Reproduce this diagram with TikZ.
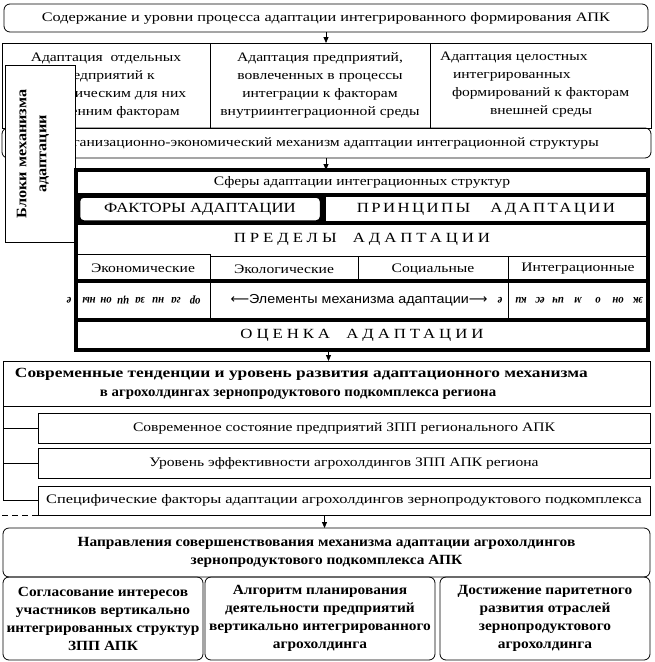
\documentclass[tikz,border=0pt]{standalone}
\usepackage{fontspec}
\setmainfont{Liberation Serif}[FakeStretch=1.2]
\newfontfamily\sansf{Liberation Sans}
\newfontfamily\dvs{DejaVu Sans}
\usetikzlibrary{arrows.meta}
\begin{document}
\begin{tikzpicture}[x=1pt,y=-1pt,
  every node/.style={inner sep=0pt, outer sep=0pt, font=\fontsize{13}{18}\selectfont},
  bx/.style={draw, line width=0.8pt, align=center},
  rbx/.style={bx, rounded corners=6pt},
  thk/.style={line width=3.5pt},
  arr/.style={line width=0.8pt, -{Triangle[length=6pt,width=5pt]}},
  bf/.style={font=\fontsize{14}{18}\selectfont\bfseries\addfontfeature{FakeStretch=1.1}},
  piece/.style={rotate=180, font=\fontsize{12}{12}\selectfont\bfseries\itshape\addfontfeature{FakeStretch=0.9}},
  sp/.style={font=\fontsize{14}{16}\selectfont\addfontfeature{LetterSpace=28}}
]
\useasboundingbox (0,0) rectangle (654,662);
% top
\node[rbx, minimum width=644pt, minimum height=28pt, font=\fontsize{13}{18}\selectfont\addfontfeature{FakeStretch=1.25}] (top) at (326,18) {Содержание и уровни процесса адаптации интегрированного формирования АПК};
% row of three
\node[bx, minimum width=208pt, minimum height=85pt] (c1) at (106,85.5) {Адаптация \ отдельных\\предприятий к\\специфическим для них\\внутренним факторам};
\node[bx, minimum width=220pt, minimum height=85pt] (c2) at (320,85.5) {Адаптация предприятий,\\вовлеченных в процессы\\интеграции к факторам\\внутриинтеграционной среды};
\node[bx, minimum width=221pt, minimum height=85pt] (c3) at (540.5,85.5) {};
\node[anchor=west, align=left] (c3t) at (440,85) {Адаптация целостных\\\hspace*{13pt}интегрированных\\\hspace*{12pt}формирований к факторам\\\hspace*{50pt}внешней среды};
\draw[arr] (top.south) -- (top.south |- c2.north);
% org mech
\node[rbx, minimum width=649pt, minimum height=30pt] (org) at (326.5,143) {Организационно-экономический механизм адаптации интеграционной структуры};
% bloki
\node[bx, fill=white, minimum width=70pt, minimum height=177pt] (bloki) at (40,153.5) {};
\node[rotate=90, align=center, font=\fontsize{14.5}{20}\selectfont\bfseries\addfontfeature{FakeStretch=1.12}] (blokit) at (33,154) {Блоки механизма\\адаптации};
% thick block
\node[minimum width=572pt, minimum height=25pt] (sfery) at (362,182.5) {Сферы адаптации интеграционных структур};
\node[draw, thk, rounded corners=5pt, minimum width=243pt, minimum height=26pt, font=\fontsize{14}{16}\selectfont] (fakt) at (200,209) {ФАКТОРЫ АДАПТАЦИИ};
\node[draw, thk, minimum width=324pt, minimum height=28pt, font=\fontsize{14}{16}\selectfont\addfontfeature{LetterSpace=17}] (princ) at (486,209) {ПРИНЦИПЫ\hspace*{20pt}АДАПТАЦИИ};
\node[minimum width=572pt, minimum height=33pt, sp] (pred) at (362,239.5) {ПРЕДЕЛЫ \ АДАПТАЦИИ};
\node[bx, minimum width=134pt, minimum height=27pt] (e1) at (143,268) {Экономические};
\node[bx, minimum width=148pt, minimum height=25pt] (e2) at (284,269) {Экологические};
\node[bx, minimum width=150pt, minimum height=25pt] (e3) at (433,269) {Социальные};
\node[bx, minimum width=140pt, minimum height=25pt] (e4) at (578,269) {Интеграционные};
\node[bx, minimum width=134pt, minimum height=38pt] (m1) at (143,300.5) {};
\node[bx, minimum width=298pt, minimum height=38pt, font=\fontsize{13}{16}\sansf\addfontfeature{FakeStretch=1.1}] (m2) at (359,300.5) {{\dvs ⟵}Элементы механизма адаптации{\dvs ⟶}};
\node[bx, minimum width=140pt, minimum height=38pt] (m3) at (578,300.5) {};
\node[minimum width=572pt, minimum height=30pt, sp] (ocen) at (362,335) {ОЦЕНКА \ АДАПТАЦИИ};
\draw[thk] (76,170) rectangle (648,350);
\draw[thk] (76,195) -- (648,195);
\draw[thk] (76,223) -- (648,223);
\draw[thk] (76,281) -- (648,281);
\draw[thk] (76,320) -- (648,320);
% pieces
\node[piece] (pl0) at (69,300) {е};
\node[piece] (pl1) at (89,300) {ны};
\node[piece] (pl2) at (106,300) {он};
\node[piece] (pl3) at (123,300) {ци};
\node[piece] (pl4) at (140,300) {за};
\node[piece] (pl5) at (158,300) {ни};
\node[piece] (pl6) at (176,300) {га};
\node[piece] (pl7) at (195,300) {ор};
\node[piece] (pr0) at (500,300) {е};
\node[piece] (pr1) at (521,300) {ки};
\node[piece] (pr2) at (540,300) {ес};
\node[piece] (pr3) at (558,300) {ич};
\node[piece] (pr4) at (578,300) {м};
\node[piece] (pr5) at (598,300) {о};
\node[piece] (pr6) at (618,300) {он};
\node[piece] (pr7) at (638,300) {эк};
\draw[arr] (org.south -| sfery.north) ++(-36,0) coordinate (a2s) -- (a2s |- sfery.north);
% modern tendencies
\node[bx, minimum width=647pt, minimum height=45pt] (sovr) at (326.5,383.5) {};
\node[anchor=west, align=left, font=\fontsize{14}{19}\selectfont\bfseries\addfontfeature{FakeStretch=1.24}] (sovrt) at (15,383.5) {Современные тенденции и уровень развития адаптационного механизма\\\hspace*{85pt}{\addfontfeature{FakeStretch=1.06}в агрохолдингах зернопродуктового подкомплекса региона}};
\draw[arr] (sovr.north |- ocen.south) ++(2,0) coordinate (a3s) -- (a3s |- sovr.north);
\node[bx, minimum width=612pt, minimum height=30pt] (s1) at (344,428) {Современное состояние предприятий ЗПП регионального АПК};
\node[bx, minimum width=612pt, minimum height=30pt] (s2) at (344,463) {Уровень эффективности агрохолдингов ЗПП АПК региона};
\node[bx, minimum width=612pt, minimum height=29pt, font=\fontsize{13}{18}\selectfont\addfontfeature{FakeStretch=1.26}] (s3) at (344,500.5) {Специфические факторы адаптации агрохолдингов зернопродуктового подкомплекса};
\draw[line width=0.8pt] (sovr.south west) |- (s1.west);
\draw[line width=0.8pt] (sovr.south west) |- (s2.west);
\draw[line width=0.8pt] (sovr.south west) |- (s3.west);
\coordinate (dl) at (2,515);
\draw[line width=0.8pt, dash pattern=on 6pt off 4pt] (dl) -- (s3.south west);
% directions
\node[rbx, minimum width=647pt, minimum height=49pt, bf] (napr) at (326.5,552.5) {Направления совершенствования механизма адаптации агрохолдингов\\зернопродуктового подкомплекса АПК};
\draw[arr] (napr.north |- s3.south) ++(-2,0) coordinate (a4s) -- (a4s |- napr.north);
\node[rbx, minimum width=200pt, minimum height=83pt, bf] (b1) at (103,618.5) {Согласование интересов\\участников вертикально\\интегрированных структур\\ЗПП АПК};
\node[rbx, minimum width=230pt, minimum height=83pt, bf] (b2) at (320,618.5) {Алгоритм планирования\\деятельности предприятий\\вертикально интегрированного\\агрохолдинга};
\node[rbx, minimum width=210pt, minimum height=83pt, bf] (b3) at (545,618.5) {Достижение паритетного\\развития отраслей\\зернопродуктового\\агрохолдинга};
\end{tikzpicture}
\end{document}
